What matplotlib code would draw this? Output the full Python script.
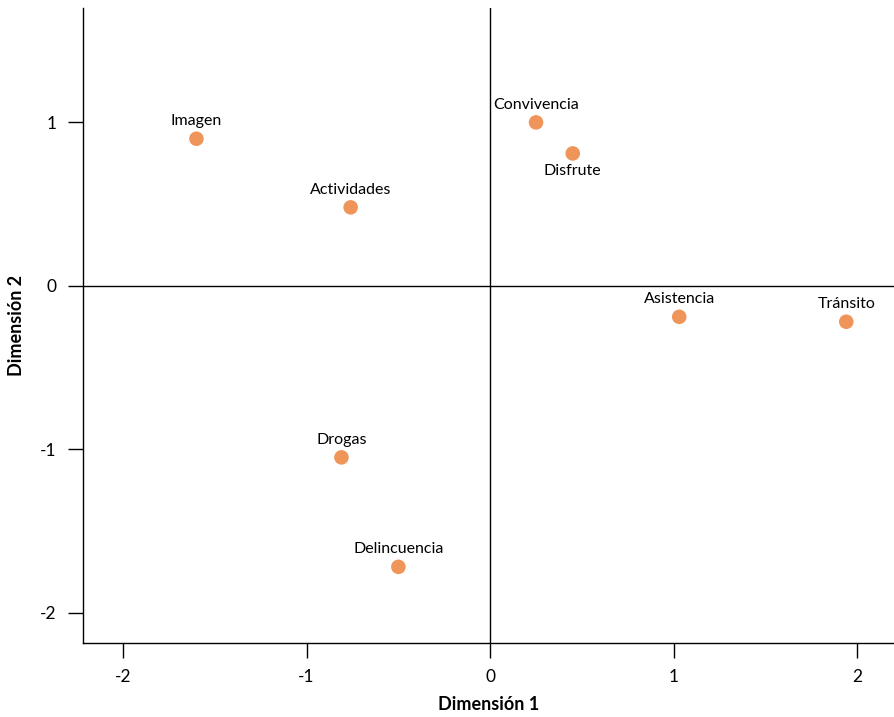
import matplotlib.pyplot as plt

plt.rcParams['font.family'] = ['Lato', 'DejaVu Sans']
plt.rcParams['axes.unicode_minus'] = False

labels = ['Imagen', 'Actividades', 'Convivencia', 'Disfrute', 'Asistencia',
          'Tránsito', 'Drogas', 'Delincuencia']
dim1 = [-1.60, -0.76, 0.25, 0.45, 1.03, 1.94, -0.81, -0.50]
dim2 = [0.90, 0.48, 1.00, 0.81, -0.19, -0.22, -1.05, -1.72]
below = ['Disfrute']

xticks = [-2, -1, 0, 1, 2]
yticks = [-2, -1, 0, 1]

fig = plt.figure(figsize=(8.94, 7.17), dpi=100)
ax = fig.add_axes([83 / 894, 74 / 717, 811 / 894, 635 / 717])

ax.axhline(0, color='black', lw=1)
ax.axvline(0, color='black', lw=1)
ax.scatter(dim1, dim2, s=110, color='#F0955A', zorder=3, edgecolors='none')

for name, x, y in zip(labels, dim1, dim2):
    off = -12.5 if name in below else 12.5
    ax.annotate(name, (x, y), xytext=(0, off), textcoords='offset points',
                ha='center', va='center', fontsize=11.5)

ax.set_xlim(-2.218, 2.2)
ax.set_ylim(-2.186, 1.70)
ax.set_xticks(xticks)
ax.set_yticks(yticks)
ax.tick_params(length=11, width=1, labelsize=12.5, pad=8)

for s in ['top', 'right']:
    ax.spines[s].set_visible(False)
for s in ['left', 'bottom']:
    ax.spines[s].set_linewidth(1)

ax.set_xlabel('Dimensión 1', fontsize=13, fontweight='bold')
ax.set_ylabel('Dimensión 2', fontsize=13, fontweight='bold')
ax.xaxis.set_label_coords(0.5, -0.084)
ax.yaxis.set_label_coords(-0.071, 0.5)

fig.savefig('out.png', dpi=100)
